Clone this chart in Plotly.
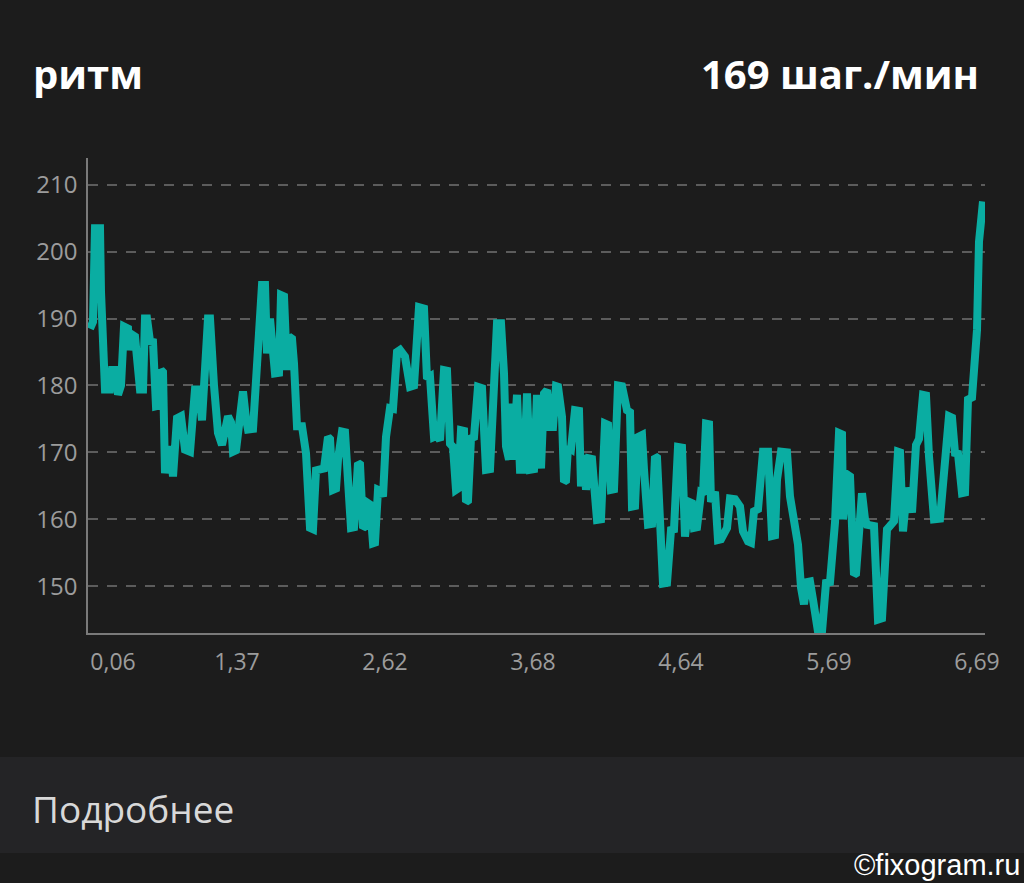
import plotly.graph_objects as go

# elapsed time, s
time_s = [
    3, 12, 18, 33, 36, 48, 63, 69, 84, 87,
    96, 105, 117, 120, 129, 138, 153, 162, 168, 174,
    183, 192, 201, 210, 216, 222, 228, 243, 252, 264,
    276, 288, 303, 309, 318, 330, 339, 357, 363, 375,
    387, 399, 417, 426, 432, 441, 453, 462, 471, 477,
    492, 504, 519, 528, 534, 543, 558, 570, 576, 585,
    594, 600, 609, 615, 624, 639, 651, 663, 672, 681,
    693, 705, 717, 723, 732, 741, 747, 759, 768, 774,
    786, 795, 807, 813, 822, 828, 837, 843, 852, 858,
    867, 876, 882, 891, 903, 912, 924, 933, 939, 948,
    963, 975, 990, 1005, 1014, 1023, 1035, 1044, 1053, 1065,
    1074, 1083, 1092, 1101, 1107, 1116, 1125, 1131, 1137, 1146,
    1155, 1167, 1179, 1191, 1203, 1212, 1224, 1236, 1245, 1251,
    1260, 1266, 1272, 1284, 1293, 1305, 1314, 1323, 1335, 1344,
    1356, 1365, 1374, 1383, 1392, 1401, 1407, 1419, 1425, 1431,
    1437, 1446, 1458, 1470, 1476, 1485, 1491, 1500, 1509, 1524,
    1536, 1548, 1557, 1566, 1575, 1587, 1599, 1614, 1623, 1629,
    1638, 1647, 1659, 1665, 1677, 1689, 1698, 1704, 1713, 1722,
    1734, 1746, 1755, 1767, 1779, 1788, 1800, 1809, 1815, 1824,
    1836, 1842, 1851, 1860, 1866, 1878, 1887, 1896, 1914, 1923,
    1938, 1953, 1962, 1977, 1986, 1995, 2007, 2022, 2037, 2049,
    2058, 2064, 2076, 2094, 2103, 2112, 2127, 2136, 2145, 2154,
    2163, 2172, 2187, 2199, 2211, 2223, 2238, 2250, 2259, 2262,
    2274, 2283, 2295, 2301, 2310, 2319, 2328, 2334, 2355, 2367,
    2379, 2394, 2403, 2415, 2427, 2433, 2442, 2454, 2463, 2469,
    2481, 2490, 2502, 2511, 2520, 2535, 2553, 2562, 2580, 2589,
    2598, 2607, 2619, 2628, 2637, 2649, 2664, 2670, 2682,
]

# cadence, steps/min
cadence = [
    188.5, 189.5, 203.5, 203.5, 194, 179.4, 179.4, 182.3, 182.3, 178.6,
    180, 188.8, 188.5, 185.3, 187.6, 187.3, 179.4, 179.4, 190, 190,
    186.6, 186.5, 176.9, 177, 182.3, 182, 166.9, 170.9, 166.4, 175.1,
    175.4, 170.4, 170.1, 174.4, 179.4, 179.4, 174.8, 190, 190, 180,
    172.9, 171.1, 175.4, 174.5, 170.1, 170.3, 174.9, 179.1, 175, 173.4,
    173.5, 183.3, 195, 195, 184.8, 190, 181.8, 181.9, 193.5, 193.3,
    182.3, 187.3, 187, 183.3, 173.9, 173.9, 169.9, 158.7, 158.5, 167.3,
    167.4, 167.6, 172.3, 172, 164.4, 164.6, 168.9, 173.1, 173, 168.4,
    158.7, 158.8, 168.4, 168.2, 158.7, 158.9, 162.4, 162.2, 156.4, 156.5,
    164.4, 164.2, 163.4, 172.3, 176.6, 176.5, 185, 185.3, 184.8, 184.3,
    179.8, 180, 191.7, 191.5, 181, 181.3, 172.3, 172.5, 171.8, 182.3,
    182.2, 171.3, 170.8, 164.4, 164.6, 173.3, 173.2, 162.6, 162.8, 172.1,
    172.3, 179.8, 179.6, 167.4, 167.5, 177.8, 189.3, 189.3, 181.8, 170.9,
    168.9, 177.3, 168.9, 178.6, 167.4, 167.4, 178.8, 167.4, 167.5, 178.6,
    167.6, 178.8, 179.3, 173.8, 173.8, 179.9, 179.8, 175.3, 165.6, 165.8,
    170.8, 170.5, 176.3, 176.2, 164.9, 169.6, 164.4, 169.1, 169, 159.9,
    160, 174.3, 174.1, 164.4, 164.5, 180, 179.9, 176.3, 176, 161.9,
    162, 172.3, 172.6, 167.4, 159.2, 159.3, 169.4, 169.2, 159.4, 150.4,
    150.5, 158.4, 158.5, 170.8, 170.7, 157.4, 162.6, 162.4, 158.7, 158.8,
    163.9, 163.7, 174.3, 174.2, 162.6, 164.1, 156.9, 157, 158.7, 163.1,
    163, 161.9, 158.2, 156.7, 156.5, 161.2, 161.5, 170.1, 170.1, 157.5,
    157.6, 165.9, 170.1, 170, 163.4, 160, 156.2, 149.8, 147.3, 150.6,
    150.7, 148, 143.2, 143.2, 150.5, 150.6, 159.5, 172.9, 172.7, 160,
    166.7, 166.4, 151.7, 151.9, 158, 163.9, 160, 159.2, 159, 145,
    145.2, 158.5, 159, 159.7, 170.1, 170, 158.2, 164.7, 163, 161,
    171.1, 172, 178.6, 178.5, 169.4, 160, 160.1, 164.4, 175.4, 175.2,
    169.9, 169.8, 163.9, 164, 177.9, 178.2, 188.3, 201.5, 207.5,
]

# distance labels (km) shown under the axis
tick_times = [72, 444, 888, 1332, 1776, 2220, 2664]
tick_labels = ['0,06', '1,37', '2,62', '3,68', '4,64', '5,69', '6,69']
y_ticks = [150, 160, 170, 180, 190, 200, 210]

bg = '#1c1c1c'
band = '#242426'
# layout is planned on a 1024 x 883 canvas; the page itself is a bit wider
W, H = 1024, 883
PAGE_W = 1039

fig = go.Figure()
fig.add_trace(go.Scatter(
    x=time_s, y=cadence, mode='lines',
    line=dict(color='#0aada2', width=8),
    hoverinfo='skip', showlegend=False,
))

fig.update_layout(
    width=PAGE_W, height=H,
    margin=dict(l=0, r=0, t=0, b=0),
    paper_bgcolor=bg, plot_bgcolor=bg,
    font=dict(family='Open Sans', color='#9c9c9c', size=24),
    xaxis=dict(
        domain=[88 / W, 985 / W],
        range=[-3, 2688],
        tickvals=tick_times, ticktext=tick_labels,
        showgrid=False, zeroline=False,
        showline=True, linecolor='#7a7a7a', linewidth=1.5,
        ticks='', ticklabelstandoff=8,
        tickfont=dict(size=23, color='#9c9c9c'),
    ),
    yaxis=dict(
        domain=[1 - 633 / H, 1 - 158 / H],
        range=[143, 214],
        tickvals=y_ticks,
        showgrid=True, gridcolor='#5c5c5c', gridwidth=1.5, griddash='10px,9px',
        zeroline=False,
        showline=True, linecolor='#7a7a7a', linewidth=1.5,
        ticks='', ticklabelstandoff=4,
        tickfont=dict(size=24, color='#9c9c9c'),
    ),
)

# bottom "more" band
fig.add_shape(type='rect', xref='paper', yref='paper',
              x0=0, x1=1, y0=1 - 853 / H, y1=1 - 757 / H,
              fillcolor=band, line=dict(width=0), layer='below')

fig.add_annotation(text='<b>ритм</b>', xref='paper', yref='paper',
                   x=31 / W, y=1 - 73 / H, xanchor='left', yanchor='middle',
                   showarrow=False, font=dict(family='Open Sans', size=40, color='#ffffff'))
fig.add_annotation(text='<b>169 шаг./мин</b>', xref='paper', yref='paper',
                   x=981 / W, y=1 - 73 / H, xanchor='right', yanchor='middle',
                   showarrow=False, font=dict(family='Open Sans', size=40, color='#ffffff'))
fig.add_annotation(text='Подробнее', xref='paper', yref='paper',
                   x=30 / W, y=1 - 808 / H, xanchor='left', yanchor='middle',
                   showarrow=False, font=dict(family='Open Sans', size=37, color='#d8d8d8'))
fig.add_annotation(text='©fixogram.ru', xref='paper', yref='paper',
                   x=1022 / W, y=1 - 865 / H, xanchor='right', yanchor='middle',
                   showarrow=False, font=dict(family='Liberation Sans', size=29, color='#ffffff'))

# no body margin, no scrollbars
fix_page = (
    "var st=document.createElement('style');"
    "st.textContent='html,body{margin:0;padding:0;overflow:hidden;background:%s;}';"
    "document.head.appendChild(st);" % bg
)
fig.write_html('out.html', config={'displayModeBar': False},
               post_script=fix_page)
